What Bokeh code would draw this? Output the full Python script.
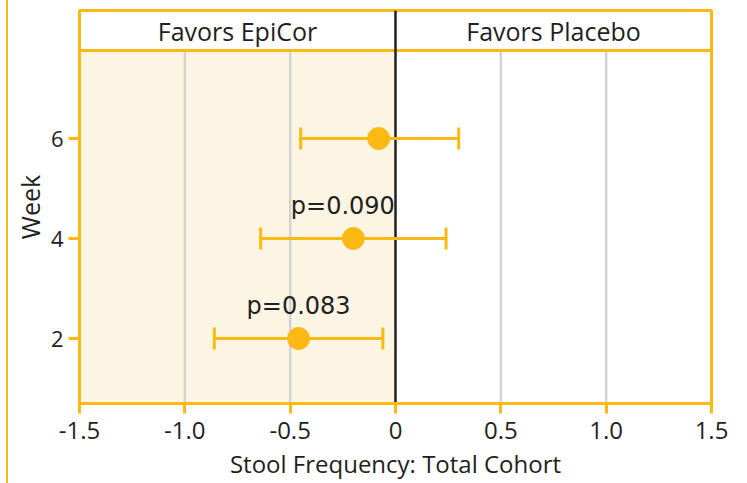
from bokeh.plotting import figure
from bokeh.models import ColumnDataSource, Whisker, TeeHead, FixedTicker, Div
from bokeh.layouts import row
from bokeh.embed import file_html
from bokeh.resources import INLINE
from bokeh.core.properties import value

# ---- data ----
weeks = [6, 4, 2]
means = [-0.08, -0.20, -0.46]
lowers = [-0.45, -0.64, -0.86]
uppers = [0.30, 0.24, -0.06]

p_label_x = [-0.25, -0.46]
p_label_y = [4, 2]
p_labels = ["p=0.090", "p=0.083"]

x_ticks = [-1.5, -1.0, -0.5, 0, 0.5, 1.0, 1.5]
x_tick_labels = ["-1.5", "-1.0", "-0.5", "0", "0.5", "1.0", "1.5"]
y_ticks = [2, 4, 6]
grid_x = [-1.0, -0.5, 0.5, 1.0]

header_labels = ["Favors EpiCor", "Favors Placebo"]
header_x = [-0.75, 0.75]

x_title = "Stool Frequency: Total Cohort"
y_title = "Week"

# ---- style ----
ORANGE = "#FDB913"
SHADE = "#FDF5E4"
GRID = "#D3D3D3"
DARK = "#231F20"
FONT = "Open Sans"

X0, X1 = -1.5, 1.5
Y0, YH, Y1 = 0.7, 7.76, 8.56

p = figure(width=737, height=483, x_range=(X0, X1), y_range=(Y0, Y1),
           min_border_left=71, min_border_right=34, min_border_top=10,
           min_border_bottom=80, output_backend="svg", toolbar_location=None)

p.outline_line_color = ORANGE
p.outline_line_width = 3
p.xgrid.visible = False
p.ygrid.visible = False
p.background_fill_color = "white"
p.border_fill_color = "white"

# shaded "favors EpiCor" region
p.quad(left=[X0], right=[0], bottom=[Y0], top=[YH], fill_color=SHADE, line_color=None)

# grid lines
p.segment(x0=grid_x, y0=[Y0] * len(grid_x), x1=grid_x, y1=[YH] * len(grid_x),
          line_color=GRID, line_width=2.5)

# header divider
p.segment(x0=[X0], y0=[YH], x1=[X1], y1=[YH], line_color=ORANGE, line_width=3)

# zero line
p.segment(x0=[0], y0=[Y0], x1=[0], y1=[Y1], line_color=DARK, line_width=2.5)

# header texts
p.text(x=header_x, y=[(YH + Y1) / 2] * 2, text=header_labels, text_align="center",
       text_baseline="middle", text_font=value(FONT), text_font_size="25px",
       text_color=DARK)

src = ColumnDataSource(dict(week=weeks, mean=means, lower=lowers, upper=uppers))

w = Whisker(source=src, base="week", lower="lower", upper="upper", dimension="width",
            line_color=ORANGE, line_width=3,
            lower_head=TeeHead(size=22, line_color=ORANGE, line_width=3),
            upper_head=TeeHead(size=22, line_color=ORANGE, line_width=3),
            level="glyph")
p.add_layout(w)

p.scatter(x="mean", y="week", source=src, size=22, fill_color=ORANGE, line_color=ORANGE)

p.text(x=p_label_x, y=p_label_y, text=p_labels, text_align="center",
       text_baseline="middle", y_offset=-33, text_font=value("DejaVu Sans"),
       text_font_size="24px", text_color=DARK)

# axes
for ax in (p.xaxis[0], p.yaxis[0]):
    ax.axis_line_color = ORANGE
    ax.axis_line_width = 3
    ax.major_tick_line_color = ORANGE
    ax.major_tick_line_width = 3
    ax.minor_tick_line_color = None
    ax.major_tick_in = 0
    ax.major_label_text_font = FONT
    ax.major_label_text_color = DARK
    ax.axis_label_text_font = FONT
    ax.axis_label_text_font_style = "normal"
    ax.axis_label_text_color = DARK

p.xaxis.ticker = FixedTicker(ticks=x_ticks)
p.xaxis.major_label_overrides = {t: l for t, l in zip(x_ticks, x_tick_labels)}
p.xaxis.major_tick_out = 10
p.xaxis.major_label_text_font_size = "24px"
p.xaxis.major_label_standoff = 8
p.xaxis.axis_label = x_title
p.xaxis.axis_label_text_font_size = "24px"
p.xaxis.axis_label_standoff = 5

p.yaxis.ticker = FixedTicker(ticks=y_ticks)
p.yaxis.major_tick_out = 11
p.yaxis.major_label_text_font_size = "22px"
p.yaxis.major_label_standoff = 5
p.yaxis.axis_label = y_title
p.yaxis.axis_label_text_font_size = "25px"
p.yaxis.axis_label_standoff = 1

bar = Div(width=2, height=483, margin=(0, 0, 0, 6),
          styles={"background-color": ORANGE})

layout = row(bar, p, spacing=0)

open("out.html", "w").write(file_html(layout, INLINE))
